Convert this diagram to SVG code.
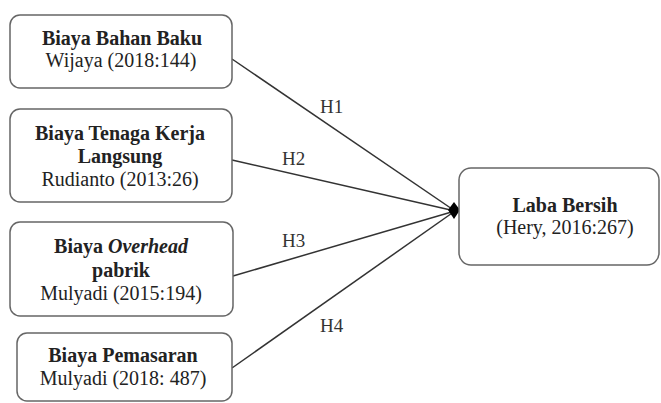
<svg xmlns="http://www.w3.org/2000/svg" width="661" height="403" viewBox="0 0 661 403">
<style>
.box{fill:#fff;stroke:#666;stroke-width:1.5}
text{font-family:'Liberation Serif','Times New Roman','DejaVu Serif',serif;font-size:20px}
.t{fill:#222;text-anchor:middle}
.b{font-weight:bold}
.lbl{fill:#333;font-size:19px}
.edge{stroke:#333;stroke-width:1.5;fill:none}
</style>
<rect width="661" height="403" fill="#fff"/>
<g id="connectors">
<line class="edge" x1="232" y1="59" x2="455" y2="211"/>
<line class="edge" x1="232" y1="160" x2="455" y2="211"/>
<line class="edge" x1="233" y1="276" x2="455" y2="211"/>
<line class="edge" x1="232" y1="368" x2="455" y2="211"/>
<polygon points="448,210 454,202 460,210 454,219" fill="#000"/>
<text class="lbl" x="320" y="113">H1</text>
<text class="lbl" x="282" y="165">H2</text>
<text class="lbl" x="282" y="247">H3</text>
<text class="lbl" x="320" y="332">H4</text>
</g>
<g id="n1">
<rect class="box" x="10" y="15" width="222" height="73" rx="10"/>
<text class="t b" x="122" y="45">Biaya Bahan Baku</text>
<text class="t" x="121" y="67">Wijaya (2018:144)</text>
</g>
<g id="n2">
<rect class="box" x="10" y="109" width="222" height="93" rx="10"/>
<text class="t b" x="120" y="140">Biaya Tenaga Kerja</text>
<text class="t b" x="120" y="163">Langsung</text>
<text class="t" x="120" y="186">Rudianto (2013:26)</text>
</g>
<g id="n3">
<rect class="box" x="10" y="222" width="223" height="94" rx="10"/>
<text class="t b" x="121" y="253">Biaya <tspan font-style="italic">Overhead</tspan></text>
<text class="t b" x="121" y="277">pabrik</text>
<text class="t" x="121" y="300">Mulyadi (2015:194)</text>
</g>
<g id="n4">
<rect class="box" x="17" y="333" width="215" height="68" rx="10"/>
<text class="t b" x="123" y="362">Biaya Pemasaran</text>
<text class="t" x="123" y="385">Mulyadi (2018: 487)</text>
</g>
<g id="n5">
<rect class="box" x="459" y="168" width="200" height="97" rx="12"/>
<text class="t b" x="565" y="212">Laba Bersih</text>
<text class="t" x="565" y="234">(Hery, 2016:267)</text>
</g>
</svg>
